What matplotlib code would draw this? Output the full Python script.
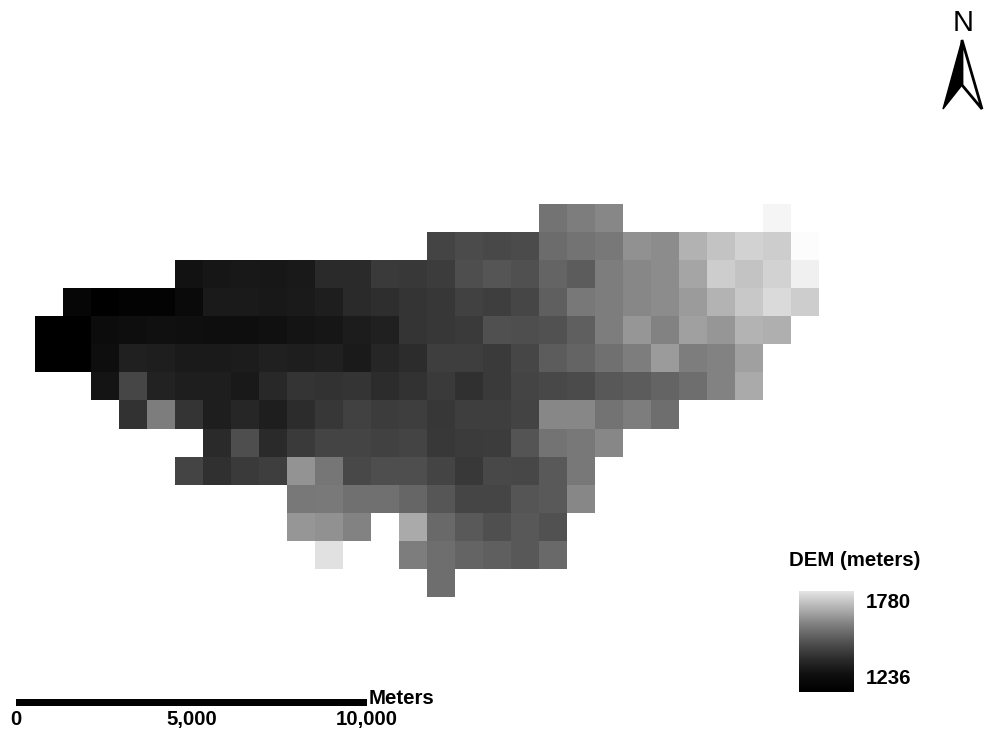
import numpy as np
import matplotlib
matplotlib.use("Agg")
import matplotlib.pyplot as plt
from matplotlib.colors import LinearSegmentedColormap
from matplotlib.patches import Polygon

plt.rcParams['font.family'] = ['Liberation Sans', 'DejaVu Sans']

W, H = 984, 730
N = None
# Grey shade of each DEM cell (0 = lowest elevation, 255 = highest), rows north to south, 28 columns
row00 = [N]*18 + [115, 125, 135] + [N]*5 + [245, N]
row01 = [N]*14 + [68, 75, 72, 75, 108, 115, 120, 145, 140, 178, 195, 210, 205, 252]
row02 = [N]*5 + [18, 22, 24, 23, 25, 42, 42, 58, 56, 60, 78, 85, 80, 100, 92, 125, 135, 140, 165, 205, 195, 210, 240]
row03 = [N, 6, 0, 3, 3, 10, 26, 26, 24, 26, 30, 42, 46, 52, 55, 65, 62, 70, 95, 120, 125, 135, 140, 155, 180, 200, 218, 205]
row04 = [0, 0, 12, 14, 16, 15, 14, 14, 16, 20, 22, 28, 32, 52, 55, 58, 80, 78, 82, 95, 125, 150, 130, 160, 150, 180, 175, N]
row05 = [0, 0, 14, 32, 30, 26, 26, 28, 32, 30, 32, 26, 38, 45, 62, 62, 58, 70, 92, 100, 112, 125, 155, 125, 130, 160, N, N]
row06 = [N, N, 20, 70, 34, 30, 30, 25, 40, 52, 50, 52, 45, 50, 58, 48, 58, 68, 72, 75, 88, 92, 100, 110, 130, 170, N, N]
row07 = [N, N, N, 50, 125, 52, 30, 38, 30, 45, 55, 65, 60, 62, 55, 62, 62, 67, 135, 135, 115, 125, 110, N, N, N, N, N]
row08 = [N]*6 + [42, 78, 42, 58, 68, 68, 65, 68, 56, 59, 61, 84, 115, 120, 135] + [N]*7
row09 = [N]*5 + [68, 48, 58, 62, 148, 118, 72, 78, 78, 68, 56, 72, 71, 90, 120] + [N]*8
row10 = [N]*9 + [120, 122, 112, 112, 102, 86, 69, 69, 85, 90, 135] + [N]*8
row11 = [N]*9 + [150, 145, 130, N, 170, 105, 90, 79, 88, 81] + [N]*9
row12 = [N]*10 + [225, N, N, 125, 110, 100, 95, 88, 105] + [N]*9
row13 = [N]*14 + [110] + [N]*13
rows = [row00, row01, row02, row03, row04, row05, row06, row07, row08, row09, row10, row11, row12, row13]

# Legend ramp: position along bar (0 bottom, 1 top) and grey level
ramp_pos = [0.0, 0.17, 0.33, 0.5, 0.67, 1.0]
ramp_grey = [0, 15, 45, 85, 130, 232]

legend_title = "DEM (meters)"
legend_high, legend_low = "1780", "1236"
scale_ticks = [0, 5000, 10000]
scale_unit = "Meters"

fig = plt.figure(figsize=(W/100, H/100), dpi=100, facecolor='white')

def box(x0, y0, x1, y1, **kw):
    return fig.add_axes([x0/W, 1-y1/H, (x1-x0)/W, (y1-y0)/H], **kw)

# Raster
grid = np.array([[np.nan if v is None else v for v in r] for r in rows], dtype=float)
ax = box(35, 204, 818.5, 597)
cmap = plt.get_cmap('gray').copy()
cmap.set_bad('white')
ax.imshow(np.ma.masked_invalid(grid), cmap=cmap, vmin=0, vmax=255, aspect='auto', interpolation='nearest')
ax.axis('off')

# Legend bar
lax = box(798.5, 590.5, 853.5, 692)
ramp_cmap = LinearSegmentedColormap.from_list(
    'ramp', [(p, (g/255, g/255, g/255)) for p, g in zip(ramp_pos, ramp_grey)])
lax.imshow(np.linspace(1, 0, 256)[:, None], cmap=ramp_cmap, vmin=0, vmax=1, aspect='auto')
lax.axis('off')

# Overlay in pixel space for text and north arrow
ov = box(0, 0, W, H)
ov.set_xlim(0, W)
ov.set_ylim(H, 0)
ov.axis('off')
ov.patch.set_alpha(0)
bold = dict(fontweight='bold', fontsize=14.7, color='black', va='center')
ov.text(854.5, 560, legend_title, ha='center', **bold)
ov.text(866, 603, legend_high, ha='left', **bold)
ov.text(866, 678, legend_low, ha='left', **bold)
ov.text(369, 698.5, scale_unit, ha='left', **bold)

ov.text(963, 23, "N", ha='center', va='center', fontsize=21, color='black')
tip, left, notch, right = (962, 40), (943, 109), (962, 85), (982, 109)
ov.add_patch(Polygon([tip, left, notch], closed=True, fc='black', ec='black', lw=1))
ov.add_patch(Polygon([tip, notch, right], closed=True, fc='white', ec='black', lw=2, joinstyle='miter'))

# Scale bar
sax = box(16, 698.5, 367, 705.5)
sax.set_xlim(scale_ticks[0], scale_ticks[-1])
sax.set_ylim(0, 1)
sax.barh([0.5], [scale_ticks[-1]], height=1, color='black')
sax.set_yticks([])
sax.set_xticks(scale_ticks)
sax.set_xticklabels([f"{t:,}" for t in scale_ticks], fontweight='bold', fontsize=14.7)
sax.tick_params(axis='x', length=0, pad=3.5)
for s in sax.spines.values():
    s.set_visible(False)

fig.savefig('out.png', dpi=100, facecolor='white')
